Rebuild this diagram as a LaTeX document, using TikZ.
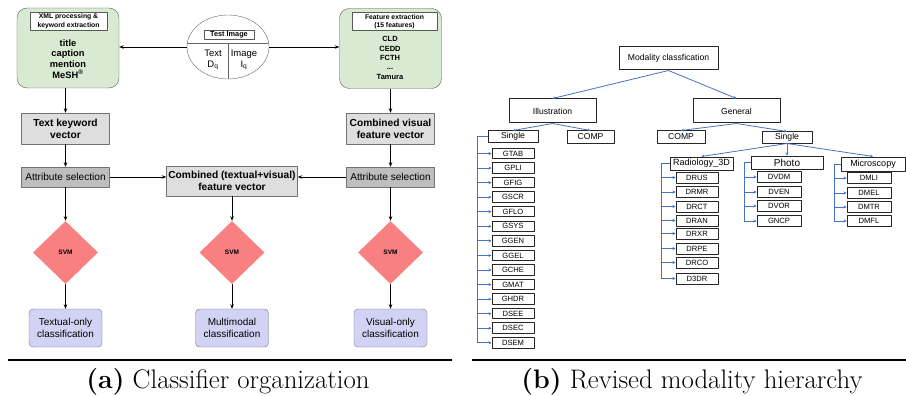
\documentclass[tikz,border=0pt]{standalone}
\usepackage{fontspec}
\newfontfamily\arialf{Liberation Sans}
\usetikzlibrary{arrows.meta,shapes.geometric}
\definecolor{boxgreen}{RGB}{217,234,211}
\definecolor{boxgray}{RGB}{222,222,222}
\definecolor{attrgray}{RGB}{190,190,190}
\definecolor{svmred}{RGB}{248,128,128}
\definecolor{outblue}{RGB}{210,210,244}
\definecolor{linkblue}{RGB}{68,114,196}

\begin{document}
\begin{tikzpicture}[x=1pt,y=-1pt,line join=round,
  every node/.style={inner sep=0pt,align=center,font=\arialf},
  flow/.style={-{Stealth[length=4.5pt,width=3.5pt]},line width=0.8pt},
  link/.style={-{Stealth[length=3pt,width=3pt]},draw=linkblue,line width=0.8pt},
  rail/.style={draw=linkblue,line width=0.8pt},
  greenbox/.style={draw=black!65,fill=boxgreen,rounded corners=10pt,minimum width=102pt,minimum height=80pt},
  tagbox/.style={draw=black!65,fill=white,font=\arialf\bfseries\fontsize{6.8}{8.5}\selectfont},
  vecbox/.style={draw=black!55,fill=boxgray,minimum width=88pt,minimum height=31pt,font=\arialf\bfseries\fontsize{10.2}{12}\selectfont},
  attrbox/.style={draw=black!55,fill=attrgray,minimum width=88pt,minimum height=20pt,font=\arialf\fontsize{10.1}{12}\selectfont},
  svm/.style={diamond,fill=svmred,minimum width=65pt,minimum height=63pt,font=\arialf\bfseries\fontsize{6.5}{8}\selectfont},
  outbox/.style={draw=black!55,fill=outblue,rounded corners=4pt,minimum width=73pt,minimum height=38pt,font=\arialf\fontsize{10}{12.5}\selectfont},
  hbox/.style={draw=black!85,line width=1pt,font=\arialf\fontsize{8.6}{10}\selectfont},
  leaf/.style={draw=black!85,line width=1pt,minimum width=42pt,minimum height=10.5pt,font=\arialf\fontsize{7.6}{8}\selectfont},
  caption/.style={font=\rmfamily\fontsize{26.8}{30}\selectfont}]
\useasboundingbox (0,0) rectangle (906,396);

% (a) classifier organization
\node[greenbox] (xmlbox) at (68,48) {};
\node[tagbox,minimum width=77pt,minimum height=18pt] (xmltag) at (68.5,21) {XML processing \&\\keyword extraction};
\node[font=\arialf\bfseries\fontsize{9.3}{10.7}\selectfont] (xmlterms) at (68,59) {title\\caption\\mention\\MeSH\textsuperscript{®}};
\node[greenbox] (featbox) at (390.5,48.5) {};
\node[tagbox,minimum width=85pt,minimum height=18pt] (feattag) at (394.5,21.5) {Feature extraction\\(15 features)};
\node[font=\arialf\bfseries\fontsize{7.5}{9.3}\selectfont] (featterms) at (390,58) {CLD\\CEDD\\FCTH\\...\\Tamura};

\node[ellipse,draw=black!60,minimum width=82pt,minimum height=64pt] (testimg) at (228,47) {};
\begin{scope}
  \clip (testimg.center) ellipse [x radius=41pt,y radius=32pt];
  \draw[black!60] (187,43) -- (269,43);
  \draw[black!60] (228,43) -- (228,80);
\end{scope}
\node[tagbox,minimum width=50pt,minimum height=9pt,font=\arialf\bfseries\fontsize{7.3}{8}\selectfont] (testtag) at (229,34.5) {Test Image};
\node[font=\arialf\fontsize{9.5}{11}\selectfont] (textq) at (213,60) {Text\\D\textsubscript{q}};
\node[font=\arialf\fontsize{9.5}{11}\selectfont] (imageq) at (244,60) {Image\\I\textsubscript{q}};

\node[vecbox] (textvec) at (65.5,128.5) {Text keyword\\vector};
\node[vecbox] (visvec) at (390.5,128.5) {Combined visual\\feature vector};
\node[attrbox] (attrL) at (65.5,177) {Attribute selection};
\node[attrbox] (attrR) at (390.5,177) {Attribute selection};
\node[vecbox,minimum width=131pt,minimum height=30pt] (combvec) at (232,181) {Combined (textual+visual)\\feature vector};

\node[svm] (svmL) at (65.5,252.5) {SVM};
\node[svm] (svmM) at (232,252.5) {SVM};
\node[svm] (svmR) at (390.5,252.5) {SVM};
\node[outbox] (outL) at (65.5,328) {Textual-only\\classification};
\node[outbox] (outM) at (232,328) {Multimodal\\classification};
\node[outbox] (outR) at (390.5,328) {Visual-only\\classification};

\draw[flow] (testimg.west) -- (testimg.west -| xmlbox.east);
\draw[flow] (testimg.east) -- (testimg.east -| featbox.west);
\draw[flow] (xmlbox.south -| textvec) -- (textvec.north);
\draw[flow] (featbox.south -| visvec) -- (visvec.north);
\draw[flow] (textvec) -- (attrL);
\draw[flow] (visvec) -- (attrR);
\draw[flow] (attrL.east) -- (attrL.east -| combvec.west);
\draw[flow] (attrR.west) -- (attrR.west -| combvec.east);
\draw[flow] (attrL) -- (svmL);
\draw[flow] (combvec) -- (svmM);
\draw[flow] (attrR) -- (svmR);
\draw[flow] (svmL) -- (outL);
\draw[flow] (svmM) -- (outM);
\draw[flow] (svmR) -- (outR);

\coordinate (ruleAl) at (8,360);
\coordinate (ruleAr) at (452,360);
\draw[line width=1.5pt] (ruleAl) -- (ruleAr);
\node[caption] (capA) at (228,382) {\textbf{(a)} Classifier organization};

% (b) revised modality hierarchy
\node[hbox,minimum width=99pt,minimum height=23pt] (root) at (668.5,58.5) {Modality classfication};
\node[hbox,minimum width=87pt,minimum height=24pt] (illus) at (552.5,111) {Illustration};
\node[hbox,minimum width=87pt,minimum height=24pt] (general) at (736.5,111) {General};
\node[hbox,minimum width=50pt,minimum height=11pt] (singleL) at (513,136.5) {Single};
\node[hbox,minimum width=47pt,minimum height=12pt] (compL) at (590.5,137) {COMP};
\node[hbox,minimum width=48pt,minimum height=12pt] (compR) at (681,137) {COMP};
\node[hbox,minimum width=50pt,minimum height=11pt] (singleR) at (787,137.5) {Single};
\node[hbox,minimum width=63pt,minimum height=13pt,font=\arialf\fontsize{9}{10}\selectfont] (radio) at (701.5,163.5) {Radiology\_3D};
\node[hbox,minimum width=72pt,minimum height=13pt,font=\arialf\fontsize{10}{11}\selectfont] (photo) at (787,162.5) {Photo};
\node[hbox,minimum width=64pt,minimum height=14pt,font=\arialf\fontsize{9}{10}\selectfont] (micro) at (873,164) {Microscopy};

\draw[link] (root.south) -- (illus.north);
\draw[link] (root.south) -- (general.north);
\draw[link] (illus.south) -- (singleL.north);
\draw[link] (illus.south) -- (compL.north);
\draw[link] (general.south) -- (compR.north);
\draw[link] (general.south) -- (singleR.north);
\draw[link] (singleR.south) -- (radio.north);
\draw[link] (singleR.south) -- (photo.north);
\draw[link] (singleR.south) -- (micro.north);

\foreach \lbl [count=\i] in {GTAB,GPLI,GFIG,GSCR,GFLO,GSYS,GGEN,GGEL,GCHE,GMAT,GHDR,DSEE,DSEC,DSEM}
  \node[leaf] (g\i) at (513,{153.5+(\i-1)*14.56}) {\lbl};
\coordinate (railG) at (477,136.5);
\draw[rail] (singleL.west) -- (railG) -- (railG |- g14);
\foreach \i in {1,...,14}
  \draw[link] (railG |- g\i) -- (g\i.west);

\foreach \lbl/\y [count=\i] in {DRUS/177.5,DRMR/192,DRCT/206.5,DRAN/220.5,DRXR/233.5,DRPE/248.5,DRCO/262.5,D3DR/278.5}
  \node[leaf,minimum height=11pt] (r\i) at (697,\y) {\lbl};
\coordinate (railR) at (661,163.5);
\draw[rail] (radio.west) -- (railR) -- (railR |- r8);
\foreach \i in {1,...,8}
  \draw[link] (railR |- r\i) -- (r\i.west);

\foreach \lbl/\y [count=\i] in {DVDM/177,DVEN/192,DVOR/206,GNCP/221}
  \node[leaf,minimum width=44pt,minimum height=11pt] (p\i) at (779,\y) {\lbl};
\coordinate (railP) at (744,162.5);
\draw[rail] (photo.west) -- (railP) -- (railP |- p4);
\foreach \i in {1,...,4}
  \draw[link] (railP |- p\i) -- (p\i.west);

\foreach \lbl/\y [count=\i] in {DMLI/178,DMEL/193,DMTR/207,DMFL/221}
  \node[leaf,minimum width=44pt,minimum height=11pt] (m\i) at (869,\y) {\lbl};
\coordinate (railM) at (834,164);
\draw[rail] (micro.west) -- (railM) -- (railM |- m4);
\foreach \i in {1,...,4}
  \draw[link] (railM |- m\i) -- (m\i.west);

\coordinate (ruleBl) at (472,360);
\coordinate (ruleBr) at (906,360);
\draw[line width=1.5pt] (ruleBl) -- (ruleBr);
\node[caption] (capB) at (692,382) {\textbf{(b)} Revised modality hierarchy};
\end{tikzpicture}
\end{document}
